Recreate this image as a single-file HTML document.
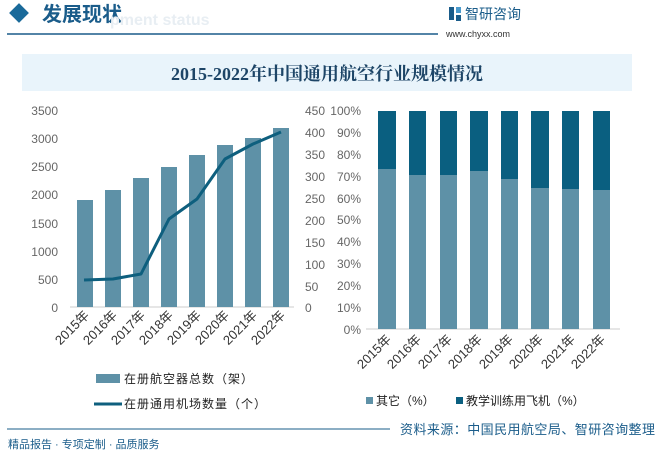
<!DOCTYPE html>
<html><head><meta charset="utf-8"><style>
body{margin:0;background:#fff;width:660px;height:454px;overflow:hidden}
text{font-family:"Liberation Sans","Noto Sans CJK SC",sans-serif}
</style></head><body>
<svg width="660" height="454" viewBox="0 0 660 454" xmlns="http://www.w3.org/2000/svg">
<rect x="12" y="6" width="14" height="14" fill="#1a6a9a" transform="rotate(45 19 13)"/>
<text x="42" y="21" font-size="20" fill="#1a5c8a" font-family="Noto Sans CJK SC,sans-serif" font-weight="bold">发展现状</text>
<text x="110" y="25" font-size="16" fill="#e8eef3" font-weight="bold">pment status</text>
<line x1="7" y1="34" x2="438" y2="34" stroke="#1a5c8a" stroke-width="1.5"/>
<rect x="449" y="7" width="5" height="13" fill="#1a5c8a"/><rect x="456" y="7" width="5" height="6" fill="#4a9acc"/><rect x="456" y="15" width="5" height="6" fill="#1a5c8a"/>
<text x="465" y="19" font-size="14" fill="#1a5c8a" font-family="Noto Sans CJK SC,sans-serif">智研咨询</text>
<text x="446" y="37" font-size="9" fill="#333" font-family="Liberation Mono,monospace">www.chyxx.com</text>
<rect x="22" y="54" width="610" height="37" fill="#e9f4fb"/>
<text x="327" y="80" font-size="18" fill="#1d4567" text-anchor="middle" style="font-family:'Liberation Serif','Noto Serif CJK SC',serif" font-weight="bold">2015-2022年中国通用航空行业规模情况</text>
<g font-size="12" fill="#666" text-anchor="end">
<text x="58" y="115">3500</text><text x="58" y="143">3000</text><text x="58" y="171">2500</text><text x="58" y="199">2000</text><text x="58" y="228">1500</text><text x="58" y="256">1000</text><text x="58" y="284">500</text><text x="58" y="312">0</text>
</g>
<g font-size="12" fill="#666">
<text x="305" y="115">450</text><text x="305" y="137">400</text><text x="305" y="159">350</text><text x="305" y="181">300</text><text x="305" y="203">250</text><text x="305" y="225">200</text><text x="305" y="247">150</text><text x="305" y="269">100</text><text x="305" y="291">50</text><text x="305" y="312">0</text>
</g>
<line x1="70" y1="307" x2="294" y2="307" stroke="#ccc"/>
<g fill="#5e91a7">
<rect x="77" y="200" width="16" height="107"/><rect x="105" y="190" width="16" height="117"/><rect x="133" y="178" width="16" height="129"/><rect x="161" y="167" width="16" height="140"/><rect x="189" y="155" width="16" height="152"/><rect x="217" y="145" width="16" height="162"/><rect x="245" y="138" width="16" height="169"/><rect x="273" y="128" width="16" height="179"/>
</g>
<polyline points="84,280 113,279 141,274 169,219 197,199 225,159 253,144 281,132" fill="none" stroke="#0e5f7e" stroke-width="3" stroke-linejoin="round"/>
<g font-size="13" fill="#333" text-anchor="end" style="font-family:'Liberation Serif','Noto Sans CJK SC',serif">
<text transform="translate(90,316) rotate(-45)">2015年</text><text transform="translate(118,316) rotate(-45)">2016年</text><text transform="translate(146,316) rotate(-45)">2017年</text><text transform="translate(174,316) rotate(-45)">2018年</text><text transform="translate(202,316) rotate(-45)">2019年</text><text transform="translate(230,316) rotate(-45)">2020年</text><text transform="translate(258,316) rotate(-45)">2021年</text><text transform="translate(286,316) rotate(-45)">2022年</text>
</g>
<rect x="96" y="374" width="24" height="9" fill="#5e91a7"/>
<text x="124" y="383" font-size="12" fill="#222" letter-spacing="1">在册航空器总数（架）</text>
<line x1="94" y1="404" x2="122" y2="404" stroke="#0e5f7e" stroke-width="3"/>
<text x="124" y="408" font-size="12" fill="#222" letter-spacing="1">在册通用机场数量（个）</text>
<g font-size="12" fill="#666" text-anchor="end">
<text x="361" y="115">100%</text><text x="361" y="137">90%</text><text x="361" y="159">80%</text><text x="361" y="181">70%</text><text x="361" y="203">60%</text><text x="361" y="224">50%</text><text x="361" y="246">40%</text><text x="361" y="268">30%</text><text x="361" y="290">20%</text><text x="361" y="312">10%</text><text x="361" y="334">0%</text>
</g>
<line x1="366" y1="329" x2="620" y2="329" stroke="#ccc"/>
<g fill="#0a5f80">
<rect x="378" y="111" width="18" height="218"/><rect x="409" y="111" width="17" height="218"/><rect x="440" y="111" width="17" height="218"/><rect x="470" y="111" width="18" height="218"/><rect x="501" y="111" width="17" height="218"/><rect x="531" y="111" width="18" height="218"/><rect x="562" y="111" width="17" height="218"/><rect x="593" y="111" width="17" height="218"/>
</g>
<g fill="#5e91a7">
<rect x="378" y="169" width="18" height="160"/><rect x="409" y="175" width="17" height="154"/><rect x="440" y="175" width="17" height="154"/><rect x="470" y="171" width="18" height="158"/><rect x="501" y="179" width="17" height="150"/><rect x="531" y="188" width="18" height="141"/><rect x="562" y="189" width="17" height="140"/><rect x="593" y="190" width="17" height="139"/>
</g>
<g font-size="13" fill="#333" text-anchor="end" style="font-family:'Liberation Serif','Noto Sans CJK SC',serif">
<text transform="translate(392,340) rotate(-45)">2015年</text><text transform="translate(422,340) rotate(-45)">2016年</text><text transform="translate(453,340) rotate(-45)">2017年</text><text transform="translate(483,340) rotate(-45)">2018年</text><text transform="translate(514,340) rotate(-45)">2019年</text><text transform="translate(544,340) rotate(-45)">2020年</text><text transform="translate(576,340) rotate(-45)">2021年</text><text transform="translate(606,340) rotate(-45)">2022年</text>
</g>
<rect x="366" y="397" width="7" height="7" fill="#5e91a7"/>
<text x="376" y="405" font-size="12" fill="#222">其它（%）</text>
<rect x="456" y="397" width="7" height="7" fill="#0a5f80"/>
<text x="466" y="405" font-size="12" fill="#222">教学训练用飞机（%）</text>
<line x1="7" y1="429" x2="390" y2="429" stroke="#1a5c8a" stroke-width="1"/>
<text x="400" y="434" font-size="13" fill="#1a5c8a" textLength="255" lengthAdjust="spacing">资料来源：中国民用航空局、智研咨询整理</text>
<text x="8" y="448" font-size="11" fill="#1a5c8a">精品报告 · 专项定制 · 品质服务</text>
</svg>
</body></html>
